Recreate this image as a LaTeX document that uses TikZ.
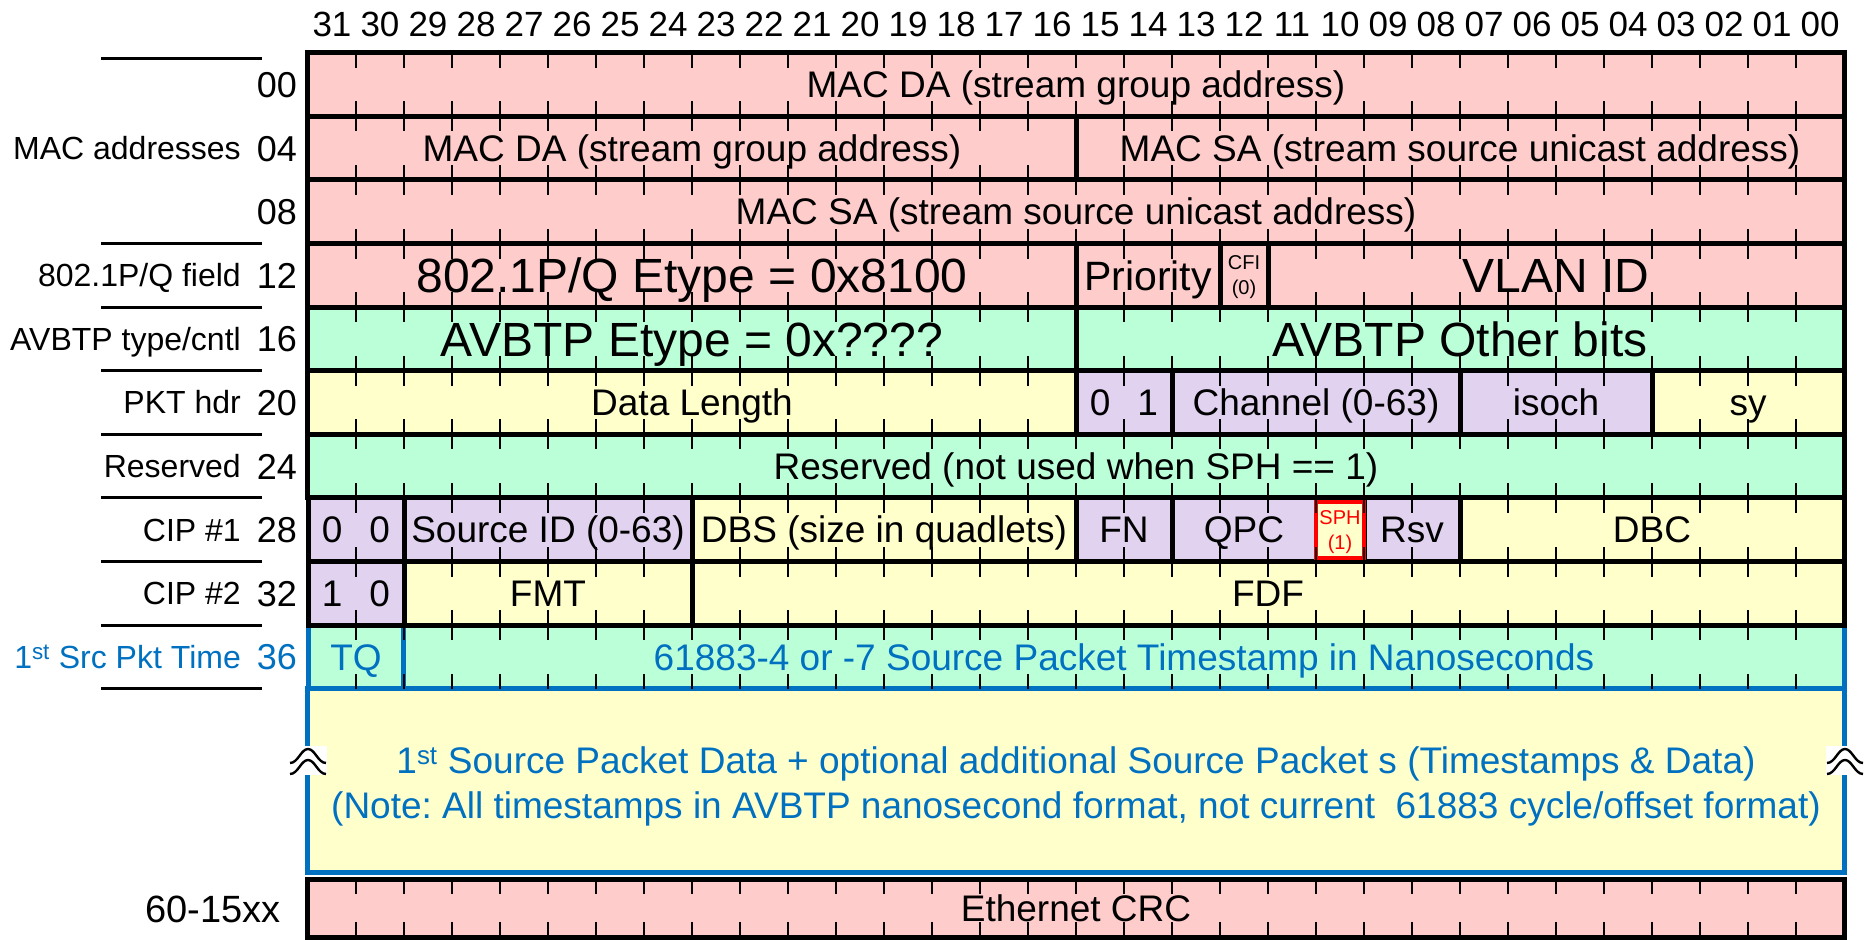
\documentclass[tikz,border=0pt]{standalone}
\usepackage{fontspec}
\setmainfont{Liberation Sans}
\definecolor{pinkc}{RGB}{255,204,204}
\definecolor{greenc}{RGB}{187,255,217}
\definecolor{yellowc}{RGB}{255,255,204}
\definecolor{purplec}{RGB}{225,210,240}
\definecolor{bluec}{RGB}{0,112,192}
\newcommand\fsmain{\fontsize{37bp}{44bp}\selectfont}
\newcommand\fsbig{\fontsize{48bp}{56bp}\selectfont}
\newcommand\fsprio{\fontsize{41bp}{48bp}\selectfont}
\newcommand\fssmall{\fontsize{20bp}{25bp}\selectfont}
\newcommand\fsname{\fontsize{32bp}{38bp}\selectfont}
\newcommand\fsoff{\fontsize{36bp}{42bp}\selectfont}
\newcommand\fshdr{\fontsize{35bp}{40bp}\selectfont}
\newcommand\fld[7][]{%
  \pgfmathsetmacro\fxl{308+(31-#4)*48}%
  \pgfmathsetmacro\fw{(#4-#5+1)*48}%
  \pgfmathsetmacro\fyt{52.7+#3*63.6}%
  \pgfmathsetmacro\fcx{\fxl+\fw/2}%
  \pgfmathsetmacro\fcy{\fyt+31.8}%
  \node[fieldbox, fill=#6, minimum width=\fw bp, #1] (#2) at (\fcx, \fcy) {#7};}
\begin{document}
\begin{tikzpicture}[x=1bp,y=-1bp,
  fieldbox/.style={draw=black, line width=5bp, inner sep=0pt, minimum height=63.6bp, font=\fsmain, text=black, text height=26.5bp, text depth=0pt},
  bigtxt/.style={font=\fsbig, text height=34.4bp},
  priotxt/.style={font=\fsprio, text height=29.4bp},
  twoline/.style={text height={}, text depth={}, align=center, font=\fssmall},
  tickmark/.style={line width=2.6bp, black},
  sepline/.style={line width=3bp, black},
  namelbl/.style={anchor=east, inner sep=0pt, font=\fsname, text height=22.9bp, text depth=0pt},
  offlbl/.style={anchor=east, inner sep=0pt, font=\fsoff, text height=25.8bp, text depth=0pt},
  hdrlbl/.style={inner sep=0pt, font=\fshdr, text height=25bp, text depth=0pt},
  wavebreak/.pic={
    \fill[white] (-19,-14) rectangle (19,15);
    \draw[line width=2.4bp] (-18,3) .. controls (-10,3) and (-7,-11) .. (0,-11) .. controls (7,-11) and (10,3) .. (18,3);
    \draw[line width=2.4bp] (-18,14) .. controls (-10,14) and (-7,0) .. (0,0) .. controls (7,0) and (10,14) .. (18,14);
  }]
\frenchspacing
\useasboundingbox (0,0) rectangle (1870,939);
% header bit numbers
\foreach \b in {0,...,31} {
  \pgfmathsetmacro\hx{308+(31-\b)*48+24}
  \node[hdrlbl] (h\b) at (\hx, 24) {\ifnum\b<10 0\fi\b};
}
% rows
\fld{da0}{0}{31}{0}{pinkc}{MAC DA (stream group address)}
\fld{da1}{1}{31}{16}{pinkc}{MAC DA (stream group address)}
\fld{sa1}{1}{15}{0}{pinkc}{MAC SA (stream source unicast address)}
\fld{sa2}{2}{31}{0}{pinkc}{MAC SA (stream source unicast address)}
\fld[bigtxt]{qtype}{3}{31}{16}{pinkc}{802.1P/Q Etype = 0x8100}
\fld[priotxt]{prio}{3}{15}{13}{pinkc}{Priority}
\fld[twoline]{cfi}{3}{12}{12}{pinkc}{\rule{0pt}{17bp}CFI\\(0)}
\fld[bigtxt]{vlan}{3}{11}{0}{pinkc}{VLAN ID}
\fld[bigtxt]{atype}{4}{31}{16}{greenc}{AVBTP Etype = 0x????}
\fld[bigtxt]{aother}{4}{15}{0}{greenc}{AVBTP Other bits}
\fld{dlen}{5}{31}{16}{yellowc}{Data Length}
\fld{tag}{5}{15}{14}{purplec}{0\hspace{27bp}1}
\fld{chan}{5}{13}{8}{purplec}{Channel (0-63)}
\fld{isoch}{5}{7}{4}{purplec}{isoch}
\fld{sy}{5}{3}{0}{yellowc}{sy}
\fld{resv}{6}{31}{0}{greenc}{Reserved (not used when SPH == 1)}
\fld{cipa}{7}{31}{30}{purplec}{0\hspace{27bp}0}
\fld{sid}{7}{29}{24}{purplec}{Source ID (0-63)}
\fld{dbs}{7}{23}{16}{yellowc}{DBS (size in quadlets)}
\fld{fn}{7}{15}{14}{purplec}{FN}
\fld{qpc}{7}{13}{11}{purplec}{QPC}
\fld{rsv}{7}{9}{8}{purplec}{Rsv}
\fld{dbc}{7}{7}{0}{yellowc}{DBC}
\fld[draw=bluec, text=bluec]{tq}{9}{31}{30}{greenc}{TQ}
\fld[draw=bluec, text=bluec]{ts}{9}{29}{0}{greenc}{61883-4 or -7 Source Packet Timestamp in Nanoseconds}
\node[fieldbox, draw=bluec, fill=yellowc, minimum width=1536bp, minimum height=183.3bp] (payload) at (1076,780.35) {};
\node[inner sep=0pt, text=bluec, align=center, font=\fontsize{37bp}{45bp}\selectfont] (payloadtxt) at (1076,786)
  {1\textsuperscript{st} Source Packet Data + optional additional Source Packet s (Timestamps \& Data)\\(Note: All timestamps in AVBTP nanosecond format, not current~ 61883 cycle/offset format)};
\fld{cipb}{8}{31}{30}{purplec}{1\hspace{27bp}0}
\fld{fmt}{8}{29}{24}{yellowc}{FMT}
\fld{fdf}{8}{23}{0}{yellowc}{FDF}
\node[fieldbox, fill=pinkc, minimum width=1536bp, minimum height=58bp] (crc) at (1076,908) {Ethernet CRC};
\fld[draw=red, line width=4bp, text=red, twoline, minimum height=56bp]{sph}{7}{10}{10}{yellowc}{\rule{0pt}{19bp}SPH\\(1)}
% ticks
\foreach \r in {0,...,9} {
  \pgfmathsetmacro\ty{52.7+\r*63.6}
  \pgfmathsetmacro\tb{\ty+63.6}
  \foreach \k in {1,...,31} {
    \pgfmathsetmacro\tx{308+48*\k}
    \draw[tickmark] (\tx,\ty) -- ++(0,15);
    \draw[tickmark] (\tx,\tb) -- ++(0,-15);
  }
}
\foreach \k in {1,...,31} {
  \pgfmathsetmacro\tx{308+48*\k}
  \draw[tickmark] (\tx,879) -- ++(0,15);
  \draw[tickmark] (\tx,937) -- ++(0,-15);
}
% break symbols
\coordinate (brkL) at (308,760);
\coordinate (brkR) at (1845,760);
\pic at (brkL) {wavebreak};
\pic at (brkR) {wavebreak};
% left separators
\foreach \y in {58,243.5,307.1,370.7,434.3,497.9,561.5,625.1,688.7} {
  \draw[sepline] (101,\y) -- (262,\y);
}
% left labels
\node[offlbl] (o0) at (297,84.5) {00};
\node[namelbl] (n1) at (241,148.1) {MAC addresses};
\node[offlbl] (o1) at (297,148.1) {04};
\node[offlbl] (o2) at (297,211.7) {08};
\node[namelbl] (n3) at (241,275.3) {802.1P/Q field};
\node[offlbl] (o3) at (297,275.3) {12};
\node[namelbl] (n4) at (241,338.9) {AVBTP type/cntl};
\node[offlbl] (o4) at (297,338.9) {16};
\node[namelbl] (n5) at (241,402.5) {PKT hdr};
\node[offlbl] (o5) at (297,402.5) {20};
\node[namelbl] (n6) at (241,466.1) {Reserved};
\node[offlbl] (o6) at (297,466.1) {24};
\node[namelbl] (n7) at (241,529.7) {CIP \#1};
\node[offlbl] (o7) at (297,529.7) {28};
\node[namelbl] (n8) at (241,593.3) {CIP \#2};
\node[offlbl] (o8) at (297,593.3) {32};
\node[namelbl, text=bluec] (n9) at (241,656.9) {1\textsuperscript{st} Src Pkt Time};
\node[offlbl, text=bluec] (o9) at (297,656.9) {36};
\node[offlbl, font=\fontsize{38bp}{44bp}\selectfont, text height=27.2bp] (ocrc) at (281,909) {60-15xx};
\end{tikzpicture}
\end{document}
